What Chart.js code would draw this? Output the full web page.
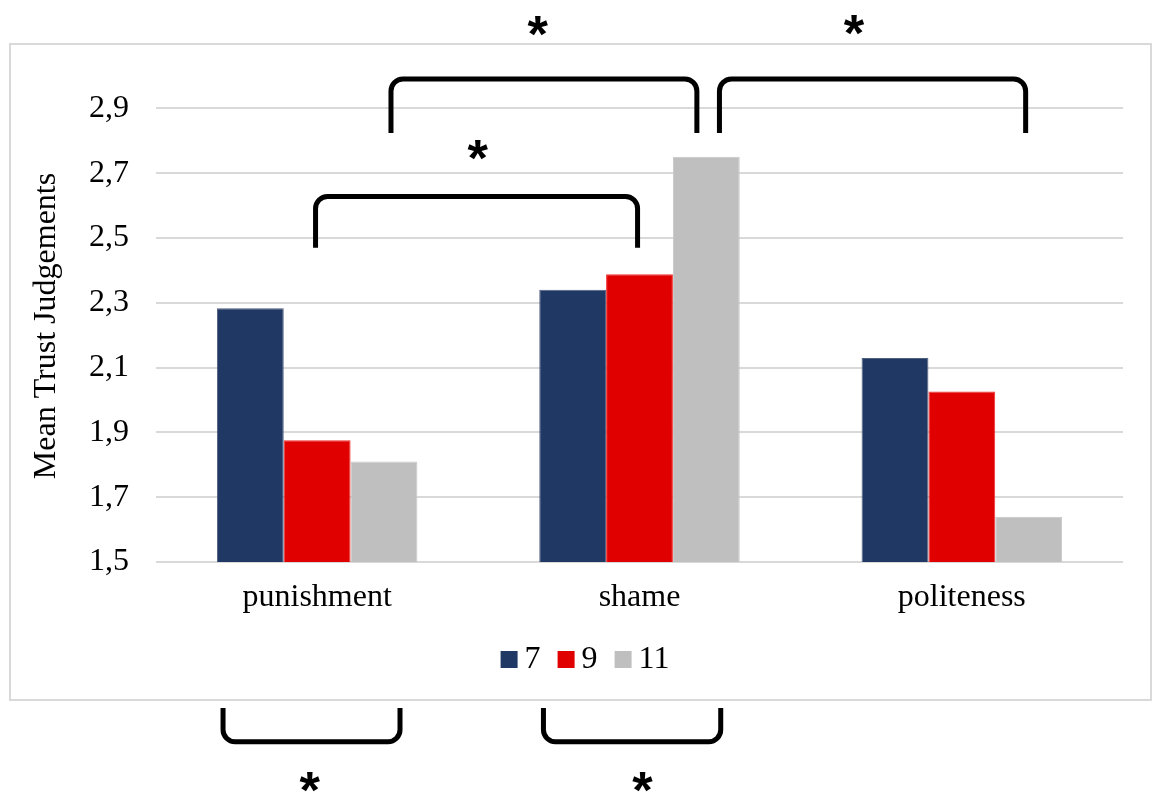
<!DOCTYPE html>
<html>
<head>
<meta charset="utf-8">
<script src="https://cdn.jsdelivr.net/npm/chart.js@4/dist/chart.umd.min.js"></script>
<style>
  html, body { margin: 0; padding: 0; background: #ffffff; }
  #wrap { width: 1154px; height: 794px; }
</style>
</head>
<body>
<div id="wrap"><canvas id="c" width="1154" height="794"></canvas></div>
<script>
// ---- data ----
const categories = ['punishment', 'shame', 'politeness'];
const seriesNames = ['7', '9', '11'];
const values7  = [2.283, 2.340, 2.130];
const values9  = [1.876, 2.388, 2.026];
const values11 = [1.810, 2.751, 1.640];
const yTickValues = [1.5, 1.7, 1.9, 2.1, 2.3, 2.5, 2.7, 2.9];
const yTickLabels = ['1,5', '1,7', '1,9', '2,1', '2,3', '2,5', '2,7', '2,9'];
const yAxisTitle = 'Mean Trust Judgements';

// significance brackets (x in category units, y in value units)
const bracketFrom = [0.229, 1.248, -0.005, -0.292, 0.702];
const bracketTo   = [1.178, 2.198, 0.994, 0.257, 1.252];
const bracketTip  = [2.824, 2.824, 2.470, 1.049, 1.049];
const bracketBar  = [2.991, 2.991, 2.628, 0.945, 0.945];
const starX = [0.685, 1.666, 0.499, -0.022, 1.010];
const starY = [3.154, 3.157, 2.772, 0.821, 0.822];

const colors = ['#203864', '#E00000', '#BFBFBF'];
const borders = ['#4F5F7C', '#F03030', '#C8C8C8'];
const serif = "'Liberation Serif', 'Times New Roman', serif";

const framePlugin = {
  id: 'frame',
  beforeDraw(chart) {
    const ctx = chart.ctx;
    ctx.save();
    ctx.fillStyle = '#ffffff';
    ctx.fillRect(0, 0, chart.width, chart.height);
    ctx.strokeStyle = '#D9D9D9';
    ctx.lineWidth = 2;
    ctx.strokeRect(10, 44, 1141, 656);
    ctx.restore();
  }
};

const annotPlugin = {
  id: 'annot',
  afterDraw(chart) {
    const ctx = chart.ctx;
    const xs = chart.scales.x, ys = chart.scales.y;
    ctx.save();
    // y axis title
    ctx.save();
    ctx.font = '32px ' + serif;
    ctx.fillStyle = '#000000';
    ctx.textAlign = 'center';
    ctx.textBaseline = 'middle';
    ctx.translate(47, (chart.chartArea.top + chart.chartArea.bottom) / 2 + 7);
    ctx.rotate(-Math.PI / 2);
    ctx.fillText(yAxisTitle, 0, 0);
    ctx.restore();
    // brackets
    ctx.strokeStyle = '#000000';
    ctx.lineWidth = 5;
    ctx.lineCap = 'butt';
    ctx.lineJoin = 'round';
    for (let i = 0; i < bracketFrom.length; i++) {
      const x1 = xs.getPixelForValue(bracketFrom[i]);
      const x2 = xs.getPixelForValue(bracketTo[i]);
      const yt = ys.getPixelForValue(bracketTip[i]);
      const yb = ys.getPixelForValue(bracketBar[i]);
      const r = 12;
      ctx.beginPath();
      ctx.moveTo(x1, yt);
      ctx.arcTo(x1, yb, x2, yb, r);
      ctx.arcTo(x2, yb, x2, yt, r);
      ctx.lineTo(x2, yt);
      ctx.stroke();
    }
    // stars
    ctx.fillStyle = '#000000';
    let fs = 40;
    ctx.font = 'bold ' + fs + "px 'Liberation Sans', Arial, sans-serif";
    let m = ctx.measureText('*');
    let w = m.actualBoundingBoxLeft + m.actualBoundingBoxRight;
    fs = fs * 21 / w;
    ctx.font = 'bold ' + fs + "px 'Liberation Sans', Arial, sans-serif";
    m = ctx.measureText('*');
    ctx.textAlign = 'left';
    ctx.textBaseline = 'alphabetic';
    for (let i = 0; i < starX.length; i++) {
      const cx = xs.getPixelForValue(starX[i]);
      const cy = ys.getPixelForValue(starY[i]);
      const dx = (m.actualBoundingBoxRight - m.actualBoundingBoxLeft) / 2;
      const dy = (m.actualBoundingBoxAscent - m.actualBoundingBoxDescent) / 2;
      ctx.fillText('*', cx - dx, cy + dy);
    }
    // legend
    ctx.font = '32px ' + serif;
    const box = 17, gap = 7, itemGap = 17;
    const items = chart.data.datasets.map(d => ({label: d.label, color: d.backgroundColor, tw: ctx.measureText(d.label).width}));
    let total = 0;
    items.forEach((it, i) => { total += box + gap + it.tw + (i < items.length - 1 ? itemGap : 0); });
    let x = 585 - total / 2;
    const baseY = 668;
    items.forEach(it => {
      ctx.fillStyle = it.color;
      ctx.fillRect(x, 651, box, box);
      ctx.fillStyle = '#000000';
      ctx.textBaseline = 'alphabetic';
      ctx.fillText(it.label, x + box + gap, baseY);
      x += box + gap + it.tw + itemGap;
    });
    ctx.restore();
  }
};

const datasets = [values7, values9, values11].map((vals, i) => ({
  label: seriesNames[i],
  data: vals,
  backgroundColor: colors[i],
  borderColor: borders[i],
  borderWidth: 1,
  categoryPercentage: 0.622,
  barPercentage: 1.0
}));

new Chart(document.getElementById('c'), {
  type: 'bar',
  data: { labels: categories, datasets: datasets },
  options: {
    responsive: false,
    animation: false,
    layout: { padding: { left: 0, right: 31, top: 76, bottom: 0 } },
    plugins: { legend: { display: false }, tooltip: { enabled: false } },
    scales: {
      x: {
        grid: { display: false, drawTicks: false },
        border: { display: false },
        ticks: { color: '#000000', font: { family: serif, size: 32 }, padding: 16, maxRotation: 0 },
        afterFit(s) { s.height = 232; }
      },
      y: {
        min: 1.5, max: 3.0,
        grid: { color: '#D9D9D9', lineWidth: 2, drawTicks: false },
        border: { display: false },
        afterBuildTicks(s) { s.ticks = yTickValues.map(v => ({ value: v })); },
        ticks: {
          color: '#000000',
          font: { family: serif, size: 32 },
          padding: 27,
          callback(v) { const k = yTickValues.findIndex(t => Math.abs(t - v) < 1e-6); return k >= 0 ? yTickLabels[k] : ''; }
        },
        title: { display: false, text: yAxisTitle },
        afterFit(s) { s.width = 156; }
      }
    }
  },
  plugins: [framePlugin, annotPlugin]
});
</script>
</body>
</html>
